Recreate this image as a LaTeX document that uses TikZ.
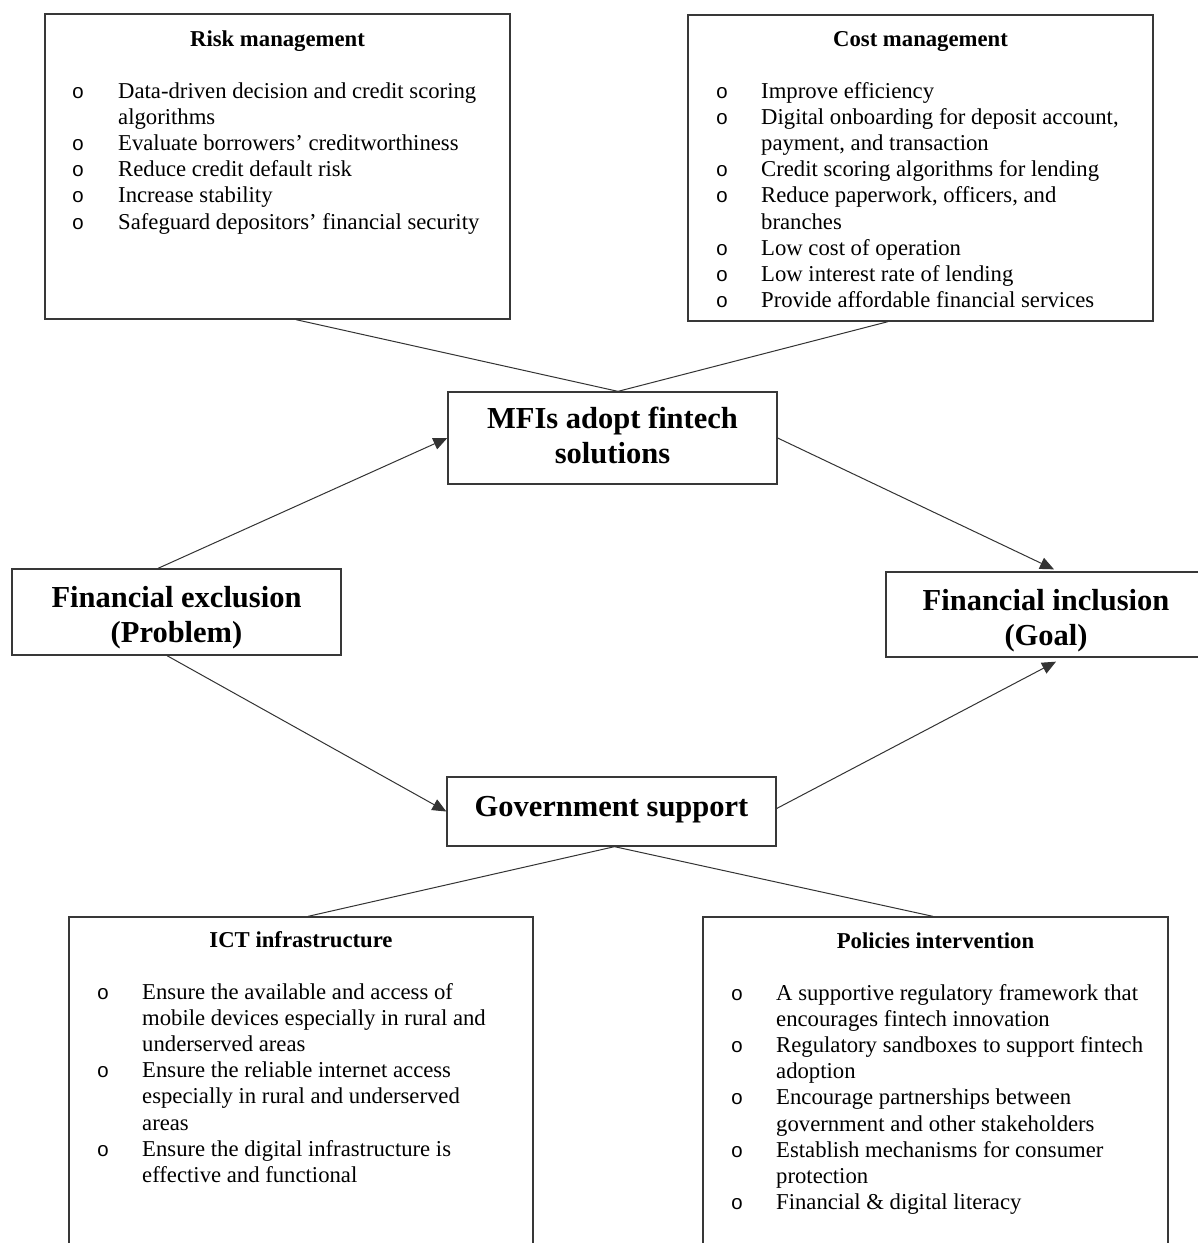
\documentclass[tikz,border=0pt]{standalone}
\usepackage{fontspec}
\setmainfont{Liberation Serif}
\newfontfamily\bulletfont{Liberation Mono}
\usetikzlibrary{arrows.meta}
\begin{document}
\begin{tikzpicture}[x=1pt,y=-1pt,
  box/.style={draw=black!78, line width=1.3pt, inner sep=0pt},
  key/.style={font=\fontsize{30.5}{35}\selectfont\bfseries, inner sep=0pt, anchor=base},
  ttl/.style={font=\fontsize{22.7}{26.2}\selectfont\bfseries, inner sep=0pt, anchor=base},
  itm/.style={font=\fontsize{22.7}{26.2}\selectfont, inner sep=0pt, anchor=base west},
  bul/.style={font=\bulletfont\fontsize{20.5}{26.2}\selectfont, inner sep=0pt, anchor=base},
  link/.style={draw=black!80, line width=1pt},
  arr/.style={link, -{Triangle[length=14pt,width=12pt]}}
]
\useasboundingbox (0,0) rectangle (1198,1243);
\fill[white] (0,0) rectangle (1198,1243);
\clip (0,0) rectangle (1198,1243);

% ---------- frames ----------
\node[box, minimum width=465pt, minimum height=305pt] (risk) at (277.5,166.5) {};
\node[box, minimum width=465pt, minimum height=306pt] (cost) at (920.5,168) {};
\node[box, minimum width=464pt, minimum height=343pt] (ict) at (301,1088.5) {};
\node[box, minimum width=465pt, minimum height=343pt] (pol) at (935.5,1088.5) {};
\node[box, minimum width=329pt, minimum height=92pt] (mfi) at (612.5,438) {};
\node[box, minimum width=329pt, minimum height=86pt] (finex) at (176.5,612) {};
\node[box, minimum width=320pt, minimum height=85pt] (fininc) at (1046,614.5) {};
\node[box, minimum width=329pt, minimum height=69pt] (gov) at (611.5,811.5) {};

% ---------- key statements ----------
\node[key] (mfi-1) at (612.5,428.5) {MFIs adopt fintech};
\node[key] (mfi-2) at (612.5,463.5) {solutions};
\node[key] (finex-1) at (176.5,607.5) {Financial exclusion};
\node[key] (finex-2) at (176.5,642.5) {(Problem)};
\node[key] (fininc-1) at (1046,610.5) {Financial inclusion};
\node[key] (fininc-2) at (1046,645.5) {(Goal)};
\node[key] (gov-1) at (611.5,816.5) {Government support};

% ---------- risk management ----------
\node[ttl] (risk-t) at (277.5,46) {Risk management};
\node[bul] (risk-b1) at (78,98) {o};
\node[itm] (risk-l1) at (118,98) {Data-driven decision and credit scoring};
\node[itm] (risk-l2) at (118,124.2) {algorithms};
\node[bul] (risk-b2) at (78,150.4) {o};
\node[itm] (risk-l3) at (118,150.4) {Evaluate borrowers’ creditworthiness};
\node[bul] (risk-b3) at (78,176.6) {o};
\node[itm] (risk-l4) at (118,176.6) {Reduce credit default risk};
\node[bul] (risk-b4) at (78,202.8) {o};
\node[itm] (risk-l5) at (118,202.8) {Increase stability};
\node[bul] (risk-b5) at (78,229) {o};
\node[itm] (risk-l6) at (118,229) {Safeguard depositors’ financial security};

% ---------- cost management ----------
\node[ttl] (cost-t) at (920.5,46) {Cost management};
\node[bul] (cost-b1) at (722,98) {o};
\node[itm] (cost-l1) at (761,98) {Improve efficiency};
\node[bul] (cost-b2) at (722,124.2) {o};
\node[itm] (cost-l2) at (761,124.2) {Digital onboarding for deposit account,};
\node[itm] (cost-l3) at (761,150.4) {payment, and transaction};
\node[bul] (cost-b3) at (722,176.6) {o};
\node[itm] (cost-l4) at (761,176.6) {Credit scoring algorithms for lending};
\node[bul] (cost-b4) at (722,202.8) {o};
\node[itm] (cost-l5) at (761,202.8) {Reduce paperwork, officers, and};
\node[itm] (cost-l6) at (761,229) {branches};
\node[bul] (cost-b5) at (722,255.2) {o};
\node[itm] (cost-l7) at (761,255.2) {Low cost of operation};
\node[bul] (cost-b6) at (722,281.4) {o};
\node[itm] (cost-l8) at (761,281.4) {Low interest rate of lending};
\node[bul] (cost-b7) at (722,307.6) {o};
\node[itm] (cost-l9) at (761,307.6) {Provide affordable financial services};

% ---------- ICT infrastructure ----------
\node[ttl] (ict-t) at (301,947) {ICT infrastructure};
\node[bul] (ict-b1) at (103,999) {o};
\node[itm] (ict-l1) at (142,999) {Ensure the available and access of};
\node[itm] (ict-l2) at (142,1025.2) {mobile devices especially in rural and};
\node[itm] (ict-l3) at (142,1051.4) {underserved areas};
\node[bul] (ict-b2) at (103,1077.6) {o};
\node[itm] (ict-l4) at (142,1077.6) {Ensure the reliable internet access};
\node[itm] (ict-l5) at (142,1103.8) {especially in rural and underserved};
\node[itm] (ict-l6) at (142,1130) {areas};
\node[bul] (ict-b3) at (103,1156.2) {o};
\node[itm] (ict-l7) at (142,1156.2) {Ensure the digital infrastructure is};
\node[itm] (ict-l8) at (142,1182.4) {effective and functional};

% ---------- policies intervention ----------
\node[ttl] (pol-t) at (935.5,948) {Policies intervention};
\node[bul] (pol-b1) at (737,1000) {o};
\node[itm] (pol-l1) at (776,1000) {A supportive regulatory framework that};
\node[itm] (pol-l2) at (776,1026.2) {encourages fintech innovation};
\node[bul] (pol-b2) at (737,1052.4) {o};
\node[itm] (pol-l3) at (776,1052.4) {Regulatory sandboxes to support fintech};
\node[itm] (pol-l4) at (776,1078.6) {adoption};
\node[bul] (pol-b3) at (737,1104.8) {o};
\node[itm] (pol-l5) at (776,1104.8) {Encourage partnerships between};
\node[itm] (pol-l6) at (776,1131) {government and other stakeholders};
\node[bul] (pol-b4) at (737,1157.2) {o};
\node[itm] (pol-l7) at (776,1157.2) {Establish mechanisms for consumer};
\node[itm] (pol-l8) at (776,1183.4) {protection};
\node[bul] (pol-b5) at (737,1209.6) {o};
\node[itm] (pol-l9) at (776,1209.6) {Financial \& digital literacy};

% ---------- connectors ----------
\draw[link] ([xshift=18.5pt]risk.south) -- ([xshift=5.5pt]mfi.north);
\draw[link] ([xshift=-32.5pt]cost.south) -- ([xshift=5.5pt]mfi.north);
\draw[arr] ([xshift=-18.5pt]finex.north) -- (mfi.west);
\draw[arr] (mfi.east) -- ([xshift=8pt,yshift=2pt]fininc.north);
\draw[arr] ([xshift=-9.5pt]finex.south) -- (gov.west);
\draw[arr] ([yshift=3pt]gov.east) -- ([xshift=10pt,yshift=-4pt]fininc.south);
\draw[link] ([xshift=3pt]gov.south) -- ([xshift=7pt]ict.north);
\draw[link] ([xshift=3pt]gov.south) -- ([xshift=-2.5pt]pol.north);
\end{tikzpicture}
\end{document}
